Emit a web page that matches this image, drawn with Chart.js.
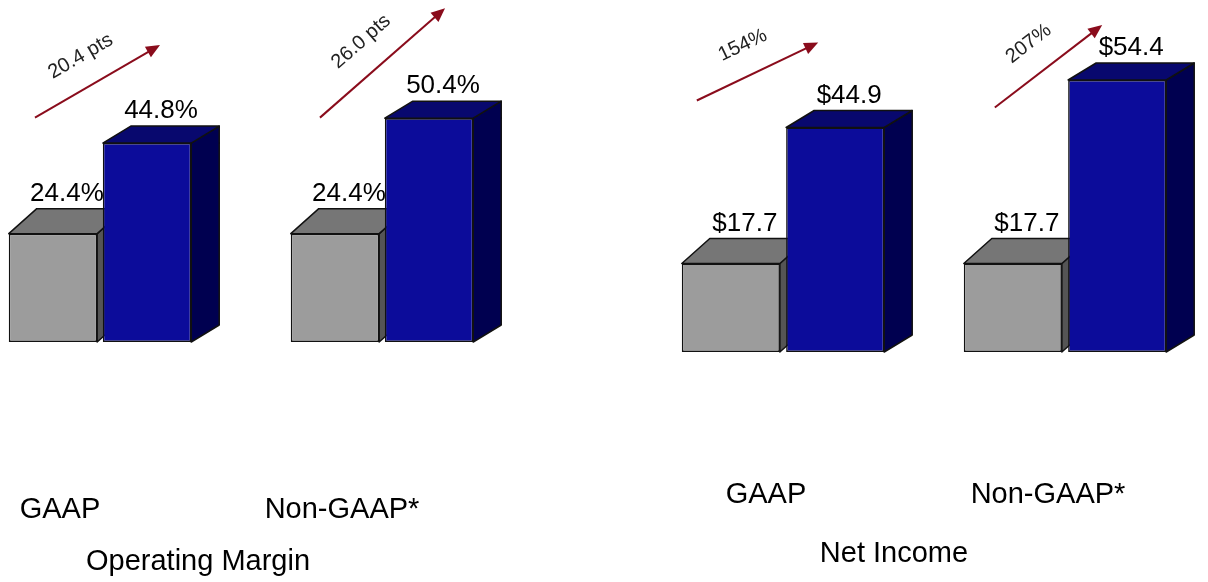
<!DOCTYPE html>
<html>
<head>
<meta charset="utf-8">
<script src="https://cdn.jsdelivr.net/npm/chart.js@4.4.1/dist/chart.umd.min.js"></script>
<style>
html, body { margin: 0; padding: 0; background: #fff; overflow: hidden; width: 1208px; height: 582px; position: relative; }
canvas { position: absolute; top: 0; }
#margin { left: -41px; }
#income { left: 642px; }
</style>
</head>
<body>
<canvas id="margin" width="564" height="582"></canvas>
<canvas id="income" width="564" height="582"></canvas>
<script>
// values
const categories = ['GAAP', 'Non-GAAP*'];
const marginPrior = [24.4, 24.4];
const marginCurrent = [44.8, 50.4];
const marginChange = ['20.4 pts', '26.0 pts'];
const incomePrior = [17.7, 17.7];
const incomeCurrent = [44.9, 54.4];
const incomeChange = ['154%', '207%'];

Chart.defaults.font.family = '"Liberation Sans", Arial, sans-serif';
Chart.defaults.color = '#000';

const grayFace = { front: '#9c9c9c', top: '#767676', side: '#555555', dx: 28, dy: -25 };
const blueFace = { front: '#0c0c9a', top: '#08086e', side: '#000050', dx: 28, dy: -17 };

// fake 3d faces, value labels, change arrows and the panel caption
function decorations(opt) {
  return {
    id: 'deco',
    beforeDatasetsDraw(chart) {
      const ctx = chart.ctx;
      chart.data.datasets.forEach((ds, i) => {
        const f = ds.face;
        chart.getDatasetMeta(i).data.forEach(bar => {
          const { x, y, base, width } = bar.getProps(['x', 'y', 'base', 'width'], true);
          const l = x - width / 2, r = x + width / 2;
          ctx.save();
          ctx.lineWidth = 1.5;
          ctx.strokeStyle = '#111';
          ctx.lineJoin = 'round';
          ctx.beginPath();
          ctx.moveTo(r, y);
          ctx.lineTo(r + f.dx, y + f.dy);
          ctx.lineTo(r + f.dx, base + f.dy);
          ctx.lineTo(r, base);
          ctx.closePath();
          ctx.fillStyle = f.side;
          ctx.fill();
          ctx.stroke();
          ctx.beginPath();
          ctx.moveTo(l, y);
          ctx.lineTo(l + f.dx, y + f.dy);
          ctx.lineTo(r + f.dx, y + f.dy);
          ctx.lineTo(r, y);
          ctx.closePath();
          ctx.fillStyle = f.top;
          ctx.fill();
          ctx.stroke();
          ctx.restore();
        });
      });
    },
    afterDatasetsDraw(chart) {
      const ctx = chart.ctx;
      ctx.save();
      // value labels
      ctx.font = '26px "Liberation Sans", Arial, sans-serif';
      ctx.fillStyle = '#000';
      ctx.textAlign = 'center';
      ctx.textBaseline = 'alphabetic';
      chart.data.datasets.forEach((ds, i) => {
        chart.getDatasetMeta(i).data.forEach((bar, j) => {
          ctx.fillText(opt.fmt(ds.data[j]), bar.x + ds.face.dx / 2, bar.y + ds.face.dy - 8);
        });
      });
      // change arrows
      const prior = chart.getDatasetMeta(0).data;
      const curr = chart.getDatasetMeta(1).data;
      opt.change.forEach((txt, j) => {
        const a = opt.arrows[j];
        const sx = prior[j].x + a.s[0], sy = prior[j].y + a.s[1];
        const ex = curr[j].x + a.e[0], ey = curr[j].y + a.e[1];
        const ang = Math.atan2(ey - sy, ex - sx);
        const ux = Math.cos(ang), uy = Math.sin(ang);
        ctx.strokeStyle = '#8a0c1c';
        ctx.fillStyle = '#8a0c1c';
        ctx.lineWidth = 2;
        ctx.beginPath();
        ctx.moveTo(sx, sy);
        ctx.lineTo(ex - ux * 10, ey - uy * 10);
        ctx.stroke();
        ctx.beginPath();
        ctx.moveTo(ex, ey);
        ctx.lineTo(ex - ux * 14 + uy * 6, ey - uy * 14 - ux * 6);
        ctx.lineTo(ex - ux * 14 - uy * 6, ey - uy * 14 + ux * 6);
        ctx.closePath();
        ctx.fill();
        const mx = (sx + ex) / 2, my = (sy + ey) / 2;
        const lx = mx + uy * 30 - ux * 2, ly = my - ux * 30 - uy * 2;
        ctx.save();
        ctx.translate(lx, ly);
        ctx.rotate(ang);
        ctx.font = '20px "Liberation Sans", Arial, sans-serif';
        ctx.fillStyle = '#222';
        ctx.textAlign = 'center';
        ctx.textBaseline = 'middle';
        ctx.fillText(txt, 0, 0);
        ctx.restore();
      });
      ctx.restore();
    },
    afterDraw(chart) {
      const ctx = chart.ctx;
      const x = chart.scales.x;
      ctx.save();
      ctx.font = '29px "Liberation Sans", Arial, sans-serif';
      ctx.fillStyle = '#000';
      ctx.textAlign = 'center';
      ctx.textBaseline = 'alphabetic';
      ctx.fillText(opt.caption, (x.left + x.right) / 2 + opt.captionOffset, opt.captionY);
      ctx.restore();
    }
  };
}

function panel(id, prior, current, opt) {
  new Chart(document.getElementById(id), {
    type: 'bar',
    data: {
      labels: categories,
      datasets: [
        { label: 'Prior', data: prior, backgroundColor: grayFace.front, face: grayFace },
        { label: 'Current', data: current, backgroundColor: blueFace.front, face: blueFace }
      ]
    },
    options: {
      responsive: false,
      animation: false,
      layout: { padding: 0 },
      datasets: {
        bar: {
          categoryPercentage: opt.catPct,
          barPercentage: 0.94,
          borderColor: '#111',
          borderWidth: 1.5,
          borderSkipped: false
        }
      },
      plugins: { legend: { display: false }, tooltip: { enabled: false } },
      scales: {
        x: {
          // tick marks hidden, their length only pushes the labels down
          grid: { display: false, drawTicks: true, tickLength: opt.drop },
          border: { display: false },
          ticks: { padding: 0, labelOffset: opt.labelOffset, color: '#000', font: { size: 29 } },
          afterFit(s) { s.height = opt.axisHeight; }
        },
        y: { display: false, min: 0, max: opt.max }
      }
    },
    plugins: [decorations(opt)]
  });
}

panel('margin', marginPrior, marginCurrent, {
  fmt: v => v.toFixed(1) + '%',
  change: marginChange,
  caption: 'Operating Margin',
  captionY: 570,
  captionOffset: -43,
  catPct: 0.667,
  max: 77,
  axisHeight: 240,
  drop: 151,
  labelOffset: -40,
  arrows: [{ s: [-18, -116], e: [13, -98] }, { s: [-15, -116], e: [16, -110] }]
});

panel('income', incomePrior, incomeCurrent, {
  fmt: v => '$' + v.toFixed(1),
  change: incomeChange,
  caption: 'Net Income',
  captionY: 562,
  captionOffset: -30,
  catPct: 0.74,
  max: 70.4,
  axisHeight: 230,
  drop: 126,
  labelOffset: -17,
  arrows: [{ s: [-34, -163], e: [-17, -85] }, { s: [-18, -156], e: [-15, -55] }]
});
</script>
</body>
</html>
